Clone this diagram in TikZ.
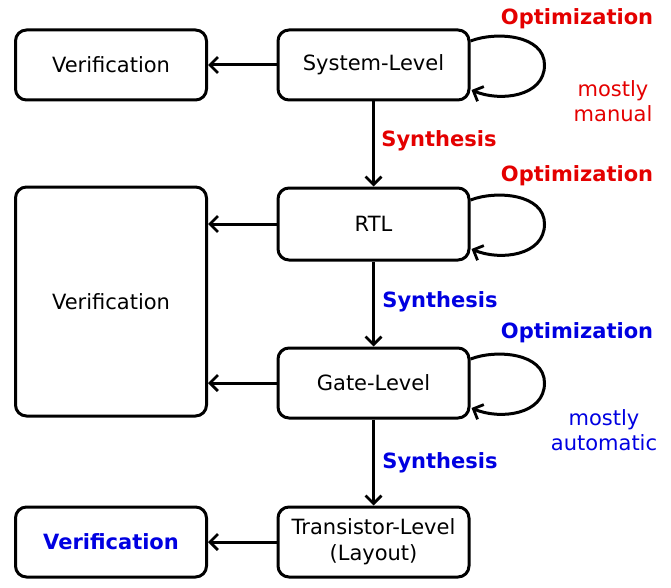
\documentclass[tikz,border=0pt]{standalone}
\usepackage{fontspec}
\setmainfont{DejaVu Sans}
\usetikzlibrary{arrows.meta}
\definecolor{myred}{RGB}{228,0,0}
\definecolor{myblue}{RGB}{0,0,225}
\begin{document}
\begin{tikzpicture}[x=1pt,y=-1pt,
  box/.style={draw,line width=3pt,rounded corners=11pt,minimum width=191pt,inner sep=0pt,align=center,font=\fontsize{21}{26}\selectfont},
  conn/.style={line width=3pt,-{Straight Barb[length=8pt,width=16pt,line width=2.8pt]}},
  lbl/.style={font=\fontsize{21}{26}\selectfont\bfseries,inner sep=0pt},
  note/.style={font=\fontsize{21}{25}\selectfont,align=center,inner sep=0pt}]
\useasboundingbox (0,0) rectangle (671,588);
% right column
\node[box,minimum height=70pt] (sys) at (373.5,65) {System-Level};
\node[box,minimum height=72pt] (rtl) at (373.5,224) {RTL};
\node[box,minimum height=70pt] (gate) at (373.5,383) {Gate-Level};
\node[box,minimum height=70pt] (tran) at (373.5,542) {Transistor-Level\\(Layout)};
% left column
\node[box,minimum height=70pt] (v1) at (111,65) {Verification};
\node[box,minimum height=229pt] (v2) at (111,301.5) {Verification};
\node[box,minimum height=70pt] (v3) at (111,542) {\textcolor{myblue}{\bfseries Verification}};
% horizontal arrows
\draw[conn] (sys.west) -- (sys.west -| v1.east);
\draw[conn] (rtl.west) -- (rtl.west -| v2.east);
\draw[conn] (gate.west) -- (gate.west -| v2.east);
\draw[conn] (tran.west) -- (tran.west -| v3.east);
% vertical arrows
\draw[conn] (sys.south) -- (rtl.north);
\draw[conn] (rtl.south) -- (gate.north);
\draw[conn] (gate.south) -- (tran.north);
% loops
\foreach \n in {sys,rtl,gate}{
  \coordinate (\n-a) at ([yshift=24pt]\n.east);
  \coordinate (\n-b) at ([xshift=74pt]\n.east);
  \coordinate (\n-c) at ([xshift=1pt,yshift=-25pt]\n.east);
  \draw[conn] (\n-a) .. controls ([xshift=26pt,yshift=10pt]\n-a) and ([yshift=30pt]\n-b) .. (\n-b)
     .. controls ([yshift=-32pt]\n-b) and ([xshift=28pt,yshift=-12pt]\n-c) .. (\n-c);
}
% labels
\node[lbl,text=myred] (o1) at (577,19) {Optimization};
\node[note,text=myred] (m1) at (613,101) {mostly\\manual};
\node[lbl,text=myred] (s1) at (439,141) {Synthesis};
\node[lbl,text=myred] (o2) at (577,176) {Optimization};
\node[lbl,text=myblue] (s2) at (440,302) {Synthesis};
\node[lbl,text=myblue] (o3) at (577,333) {Optimization};
\node[note,text=myblue] (m2) at (604,430) {mostly\\automatic};
\node[lbl,text=myblue] (s3) at (440,463) {Synthesis};
\end{tikzpicture}
\end{document}
